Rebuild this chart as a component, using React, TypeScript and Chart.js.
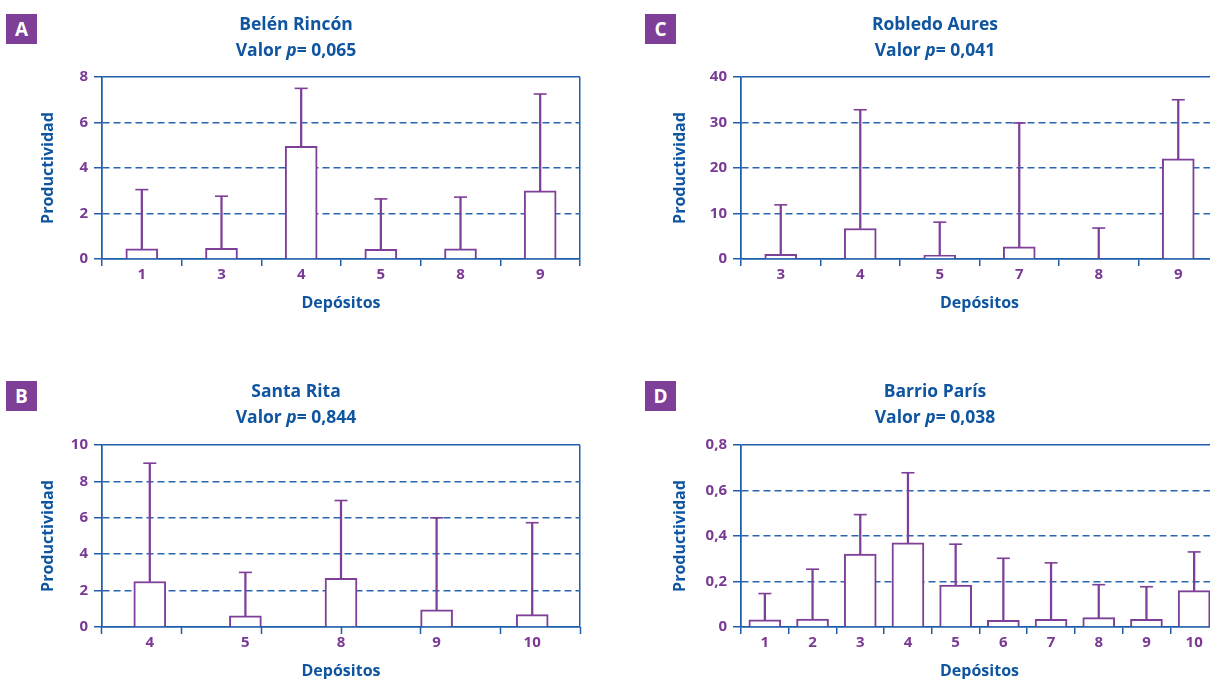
import React, { useEffect, useRef } from 'react';
import { Chart, registerables } from 'chart.js';

Chart.register(...registerables);

// ---------- data ----------
const catsA = ['1', '3', '4', '5', '8', '9'];
const meanA = [0.45, 0.47, 4.95, 0.43, 0.45, 3.0];
const upperA = [3.05, 2.76, 7.5, 2.64, 2.72, 7.25];

const catsB = ['4', '5', '8', '9', '10'];
const meanB = [2.5, 0.62, 2.67, 0.95, 0.68];
const upperB = [9.0, 3.0, 6.95, 6.0, 5.73];
// panel B's axis keeps the tick marks of a six-slot layout
const tickSlotsB = 6;

const catsC = ['3', '4', '5', '7', '8', '9'];
const meanC = [1.0, 6.7, 0.8, 2.7, 0, 22.0];
const upperC = [11.9, 32.8, 8.1, 29.9, 6.8, 35.0];

const catsD = ['1', '2', '3', '4', '5', '6', '7', '8', '9', '10'];
const meanD = [0.032, 0.035, 0.32, 0.37, 0.184, 0.029, 0.034, 0.041, 0.034, 0.16];
const upperD = [0.147, 0.254, 0.494, 0.678, 0.364, 0.302, 0.282, 0.186, 0.177, 0.33];

const yMaxA = 8, yStepA = 2;
const yMaxB = 10, yStepB = 2;
const yMaxC = 40, yStepC = 10;
const yMaxD = 0.8, yStepD = 0.2;

const titleA = 'Belén Rincón', pA = '0,065';
const titleB = 'Santa Rita', pB = '0,844';
const titleC = 'Robledo Aures', pC = '0,041';
const titleD = 'Barrio París', pD = '0,038';

const xTitle = 'Depósitos';
const yTitle = 'Productividad';

// ---------- styles ----------
const FONT = '"Open Sans", "Noto Sans", sans-serif';
const PURPLE = '#7e3f98';
const TICK_PURPLE = '#7a3a94';
const LINE_BLUE = '#1f5ea8';
const DASH_BLUE = '#2a66b0';
const TITLE_BLUE = '#0f55a0';
const BOX_PURPLE = '#7d3f98';

type Spec = {
  letter: string;
  title: string;
  p: string;
  cats: string[];
  mean: number[];
  upper: number[];
  yMax: number;
  yStep: number;
  tickSlots: number;
  left: number;
  top: number;
  yWidth: number;
  yTitlePad: number;
  padRight: number;
  titleX: number;
  titleY: number;
  letterX: number;
  letterY: number;
};

const fmt = (v: number) => {
  const r = Math.round(v * 10) / 10;
  return String(r).replace('.', ',');
};

function makeConfig(s: Spec): any {
  const isInner = (c: any) =>
    c.type === 'tick' && c.tick && c.tick.value > 1e-9 && c.tick.value < s.yMax - 1e-9;
  const ownTicks = s.tickSlots === 0;
  const scales: any = {
    x: {
      offset: true,
      weight: 1,
      grid: {
        offset: true,
        color: (c: any) => (c.type === 'tick' && c.index > 0 ? 'rgba(0,0,0,0)' : LINE_BLUE),
        lineWidth: 1.5,
        drawTicks: true,
        tickLength: 7,
        tickColor: ownTicks ? LINE_BLUE : 'rgba(0,0,0,0)',
        tickWidth: 1.5,
      },
      border: { display: true, color: LINE_BLUE, width: 1.5 },
      ticks: {
        color: TICK_PURPLE,
        font: { family: FONT, weight: 'bold', size: 15 },
        padding: 0,
        maxRotation: 0,
        autoSkip: false,
      },
      title: {
        display: true,
        text: xTitle,
        color: TITLE_BLUE,
        font: { family: FONT, weight: 'bold', size: 16 },
        padding: { top: 0, bottom: 7.4 },
      },
      afterFit: (sc: any) => {
        sc.height = 61;
      },
    },
    y: {
      min: 0,
      max: s.yMax,
      ticks: {
        stepSize: s.yStep,
        color: TICK_PURPLE,
        font: { family: FONT, weight: 'bold', size: 15 },
        padding: 6,
        callback: (v: any) => fmt(Number(v)),
      },
      grid: {
        color: (c: any) => (isInner(c) ? DASH_BLUE : LINE_BLUE),
        lineWidth: 1.5,
        drawTicks: true,
        tickLength: 8,
        tickColor: LINE_BLUE,
        tickWidth: 1.5,
      },
      border: {
        display: true,
        color: LINE_BLUE,
        width: 1.5,
        dash: (c: any) => (isInner(c) ? [7, 4] : []),
      },
      title: {
        display: true,
        text: yTitle,
        color: TITLE_BLUE,
        font: { family: FONT, weight: 'bold', size: 16 },
        padding: { top: s.yTitlePad, bottom: 0 },
      },
      afterFit: (sc: any) => {
        sc.width = s.yWidth;
      },
    },
  };
  if (!ownTicks) {
    scales.xSlots = {
      type: 'category',
      position: 'bottom',
      weight: 0,
      labels: Array.from({ length: s.tickSlots }, () => ''),
      offset: true,
      grid: {
        offset: true,
        drawOnChartArea: false,
        drawTicks: true,
        tickLength: 7,
        tickColor: LINE_BLUE,
        tickWidth: 1.5,
      },
      border: { display: false },
      ticks: { display: false },
      afterFit: (sc: any) => {
        sc.height = 0;
      },
    };
  }
  return {
    type: 'bar',
    data: {
      labels: s.cats,
      datasets: [
        {
          data: s.mean,
          backgroundColor: '#ffffff',
          borderColor: PURPLE,
          borderWidth: 2,
          barThickness: 32,
          grouped: false,
          order: 1,
        },
        {
          data: s.upper.map((u, i) => [s.mean[i], u]),
          backgroundColor: PURPLE,
          borderWidth: 0,
          barThickness: 1.6,
          grouped: false,
          order: 2,
        },
        {
          type: 'line',
          data: s.upper,
          showLine: false,
          pointStyle: 'line',
          pointRadius: 6.5,
          pointHoverRadius: 6.5,
          pointBorderWidth: 1.6,
          pointBorderColor: PURPLE,
          borderColor: PURPLE,
          order: 0,
        },
      ],
    },
    options: {
      responsive: false,
      animation: false,
      events: [],
      layout: { padding: { top: 17, left: 0, right: s.padRight, bottom: 0 } },
      plugins: {
        legend: { display: false },
        tooltip: { enabled: false },
        title: { display: false },
      },
      scales,
    },
  };
}

const specs: Spec[] = [
  {
    letter: 'A', title: titleA, p: pA, cats: catsA, mean: meanA, upper: upperA,
    yMax: yMaxA, yStep: yStepA, tickSlots: 0,
    left: 0, top: 60, yWidth: 102, yTitlePad: 38.4, padRight: 10,
    titleX: 296, titleY: 10, letterX: 6, letterY: 14,
  },
  {
    letter: 'C', title: titleC, p: pC, cats: catsC, mean: meanC, upper: upperC,
    yMax: yMaxC, yStep: yStepC, tickSlots: 0,
    left: 640, top: 60, yWidth: 101, yTitlePad: 30.4, padRight: 12,
    titleX: 935, titleY: 10, letterX: 645, letterY: 14,
  },
  {
    letter: 'B', title: titleB, p: pB, cats: catsB, mean: meanB, upper: upperB,
    yMax: yMaxB, yStep: yStepB, tickSlots: tickSlotsB,
    left: 0, top: 428, yWidth: 102, yTitlePad: 38.4, padRight: 10,
    titleX: 296, titleY: 377, letterX: 6, letterY: 381,
  },
  {
    letter: 'D', title: titleD, p: pD, cats: catsD, mean: meanD, upper: upperD,
    yMax: yMaxD, yStep: yStepD, tickSlots: 0,
    left: 640, top: 428, yWidth: 101, yTitlePad: 30.4, padRight: 12,
    titleX: 935, titleY: 377, letterX: 645, letterY: 381,
  },
];

function Panel({ s }: { s: Spec }) {
  const ref = useRef<HTMLCanvasElement>(null);
  useEffect(() => {
    const chart = new Chart(ref.current as HTMLCanvasElement, makeConfig(s));
    return () => chart.destroy();
  }, []);
  return (
    <>
      <canvas
        ref={ref}
        width={590}
        height={260}
        style={{ position: 'absolute', left: s.left, top: s.top, width: 590, height: 260 }}
      />
      <div
        style={{
          position: 'absolute',
          left: s.titleX - 150,
          top: s.titleY,
          width: 300,
          textAlign: 'center',
          fontFamily: FONT,
          fontWeight: 700,
          fontSize: 17.5,
          lineHeight: '26px',
          color: TITLE_BLUE,
          whiteSpace: 'nowrap',
        }}
      >
        <div>{s.title}</div>
        <div>
          Valor <i>p</i>= {s.p}
        </div>
      </div>
      <div
        style={{
          position: 'absolute',
          left: s.letterX,
          top: s.letterY,
          width: 31,
          height: 30,
          background: BOX_PURPLE,
          color: '#ffffff',
          fontFamily: FONT,
          fontWeight: 700,
          fontSize: 19,
          lineHeight: '30px',
          textAlign: 'center',
        }}
      >
        {s.letter}
      </div>
    </>
  );
}

export default function App() {
  return (
    <div
      style={{
        position: 'fixed',
        left: 0,
        top: 0,
        width: 1210,
        height: 679,
        overflow: 'hidden',
        background: '#ffffff',
      }}
    >
      {specs.map((s) => (
        <Panel key={s.letter} s={s} />
      ))}
    </div>
  );
}
